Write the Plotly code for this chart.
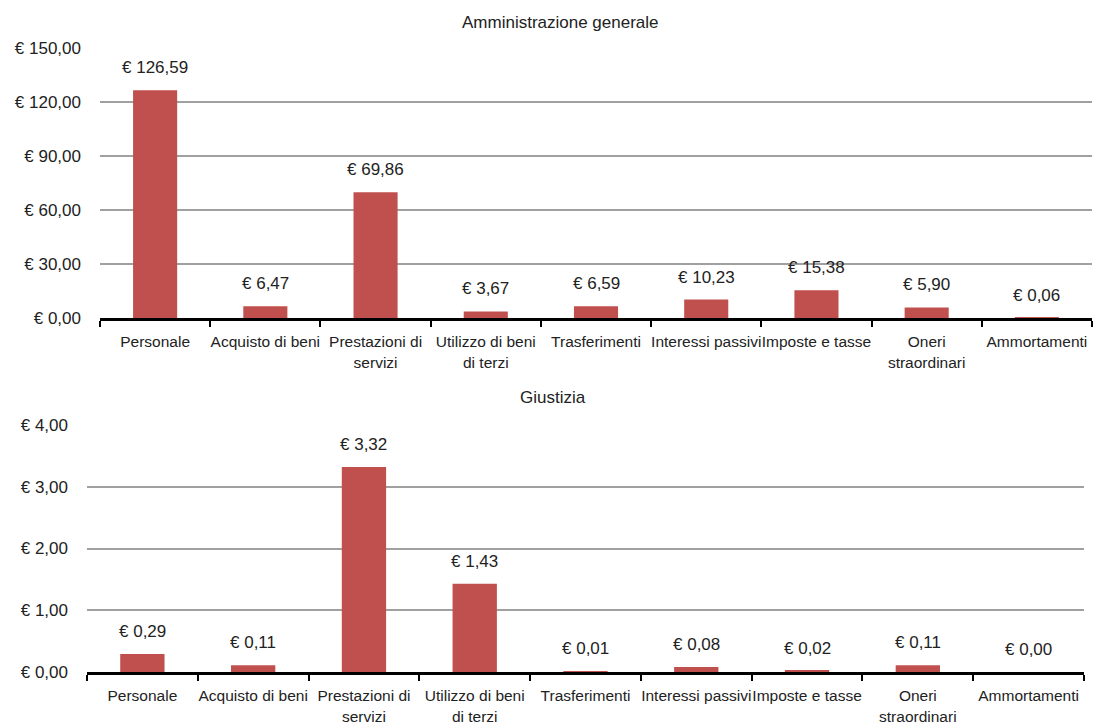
import plotly.graph_objects as go

# Cost categories (same for both panels)
categories = [
    "Personale",
    "Acquisto di beni",
    "Prestazioni di<br>servizi",
    "Utilizzo di beni<br>di terzi",
    "Trasferimenti",
    "Interessi passivi",
    "Imposte e tasse",
    "Oneri<br>straordinari",
    "Ammortamenti",
]

# Euro per inhabitant
amministrazione_values = [126.59, 6.47, 69.86, 3.67, 6.59, 10.23, 15.38, 5.90, 0.06]
giustizia_values = [0.29, 0.11, 3.32, 1.43, 0.01, 0.08, 0.02, 0.11, 0.00]

# Y-axis ticks
top_ticks = [0, 30, 60, 90, 120, 150]
bottom_ticks = [0, 1, 2, 3, 4]

titles = ["Amministrazione generale", "Giustizia"]

FONT = "Liberation Sans, Arial, sans-serif"
BAR_COLOR = "#C0504D"
TEXT_COLOR = "#222222"
FS = 17
FS_CAT = 15.5


def euro(v):
    return "€ " + f"{v:,.2f}".replace(",", "X").replace(".", ",").replace("X", ".")


W, H = 1093, 723

fig = go.Figure()
fig.add_trace(go.Bar(x=categories, y=amministrazione_values, marker_color=BAR_COLOR,
                     marker_line_width=0, xaxis="x", yaxis="y", showlegend=False))
fig.add_trace(go.Bar(x=categories, y=giustizia_values, marker_color=BAR_COLOR,
                     marker_line_width=0, xaxis="x2", yaxis="y2", showlegend=False))

annotations = []
for xa, ya, vals in (("x", "y", amministrazione_values), ("x2", "y2", giustizia_values)):
    for c, v in zip(categories, vals):
        annotations.append(dict(x=c, y=v, xref=xa, yref=ya, text=euro(v), showarrow=False,
                                yanchor="bottom", yshift=11,
                                font=dict(family=FONT, size=FS, color=TEXT_COLOR)))

annotations.append(dict(x=560 / W, y=1 - 22 / H, xref="paper", yref="paper", text=titles[0],
                        showarrow=False, xanchor="center", yanchor="middle",
                        font=dict(family=FONT, size=FS, color=TEXT_COLOR)))
annotations.append(dict(x=553 / W, y=1 - 397 / H, xref="paper", yref="paper", text=titles[1],
                        showarrow=False, xanchor="center", yanchor="middle",
                        font=dict(family=FONT, size=FS, color=TEXT_COLOR)))

xcommon = dict(showgrid=False, showline=True, linecolor="black", linewidth=2.5,
               ticks="outside", ticklen=6, tickcolor="black", tickwidth=1.5,
               tickson="boundaries", ticklabelstandoff=8, tickangle=0, automargin=False,
               tickfont=dict(family=FONT, size=FS_CAT, color=TEXT_COLOR), fixedrange=True)
ycommon = dict(showgrid=True, gridcolor="#A0A0A0", gridwidth=1.5, zeroline=False,
               showline=False, ticks="", ticklabelstandoff=18, automargin=False,
               tickfont=dict(family=FONT, size=FS, color=TEXT_COLOR), fixedrange=True)

fig.update_layout(
    width=W, height=H,
    margin=dict(l=0, r=0, t=0, b=0),
    plot_bgcolor="white", paper_bgcolor="white",
    bargap=0.6,
    font=dict(family=FONT, size=FS, color=TEXT_COLOR),
    xaxis=dict(domain=[100 / W, 1092 / W], anchor="y", **xcommon),
    yaxis=dict(domain=[1 - 318 / H, 1 - 48 / H], anchor="x", range=[0, 150],
               tickvals=top_ticks, ticktext=[euro(t) for t in top_ticks], **ycommon),
    xaxis2=dict(domain=[87 / W, 1084 / W], anchor="y2", **xcommon),
    yaxis2=dict(domain=[1 - 672 / H, 1 - 425 / H], anchor="x2", range=[0, 4],
                tickvals=bottom_ticks, ticktext=[euro(t) for t in bottom_ticks], **ycommon),
    annotations=annotations,
)

fig.write_html("out.html")
